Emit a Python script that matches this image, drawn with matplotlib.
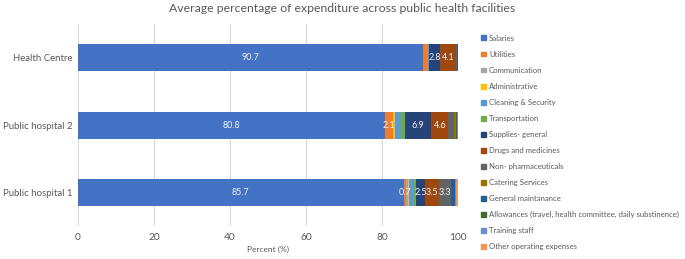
import matplotlib

matplotlib.use("Agg")
import matplotlib.pyplot as plt
import numpy as np
from matplotlib.patches import Patch

plt.rcParams["font.family"] = ["Lato", "DejaVu Sans"]

# bottom to top, as drawn
facilities = ["Public hospital 1", "Public hospital 2", "Health Centre"]

categories = [
    "Salaries", "Utilities", "Communication", "Administrative",
    "Cleaning & Security", "Transportation", "Supplies- general",
    "Drugs and medicines", "Non- pharmaceuticals", "Catering Services",
    "General maintanance",
    "Allowances (travel, health committee, daily substinence)",
    "Training staff", "Other operating expenses",
]

# percent per category, one list per facility (same order as facilities)
ph1 = [85.7, 0.7, 0.5, 0.2, 1.3, 0.5, 2.5, 3.5, 3.3, 0.0, 0.9, 0.2, 0.2, 0.5]
ph2 = [80.8, 2.1, 0.1, 0.5, 1.6, 0.9, 6.9, 4.6, 1.5, 0.4, 0.2, 0.2, 0.1, 0.1]
hc = [90.7, 1.3, 0.1, 0.1, 0.2, 0.1, 2.8, 4.1, 0.4, 0.0, 0.1, 0.1, 0.0, 0.0]

# which segments carry a value label in the original
labelled = [
    ["Salaries", "Utilities", "Supplies- general", "Drugs and medicines",
     "Non- pharmaceuticals"],
    ["Salaries", "Utilities", "Supplies- general", "Drugs and medicines"],
    ["Salaries", "Supplies- general", "Drugs and medicines"],
]

colors = ["#4472C4", "#ED7D31", "#A5A5A5", "#FFC000", "#5B9BD5", "#70AD47",
          "#264478", "#9E480E", "#636363", "#997300", "#255E91", "#43682B",
          "#698ED0", "#F1975A"]

TXT = "#595959"

data = np.array([ph1, ph2, hc])
y = np.arange(len(facilities))

fig = plt.figure(figsize=(6.85, 2.59), dpi=100)
ax = fig.add_axes([0.1139, 0.127, 0.5547, 0.780])

left = np.zeros(len(facilities))
for j, cat in enumerate(categories):
    vals = data[:, j]
    ax.barh(y, vals, left=left, height=0.4, color=colors[j], label=cat,
            zorder=3)
    for i in range(len(facilities)):
        if cat in labelled[i]:
            ax.text(left[i] + vals[i] / 2, y[i], f"{vals[i]:g}",
                    ha="center", va="center", color="#F2F2F2", fontsize=6.5,
                    zorder=4)
    left += vals

ax.set_xlim(0, 100)
ax.set_ylim(-0.5, len(facilities) - 0.5)
ax.set_xticks(np.arange(0, 101, 20))
ax.set_yticks(y)
ax.set_yticklabels(facilities)
ax.tick_params(axis="both", length=0, colors=TXT, labelsize=7.3)
ax.tick_params(axis="x", pad=5)
ax.tick_params(axis="y", pad=4, labelsize=6.9)
ax.grid(axis="x", color="#D9D9D9", linewidth=0.8, zorder=0)
for s in ax.spines.values():
    s.set_visible(False)
ax.set_xlabel("Percent (%)", fontsize=6, color=TXT, labelpad=3)

fig.suptitle("Average percentage of expenditure across public health facilities",
             fontsize=8.8, color=TXT, y=0.99)

handles = [Patch(color=c) for c in colors]
fig.legend(handles, categories, loc="upper left",
           bbox_to_anchor=(0.698, 0.878), frameon=False, fontsize=5.6,
           handlelength=0.6, handleheight=0.6, handletextpad=0.4,
           labelspacing=1.16, labelcolor=TXT, borderaxespad=0)

fig.savefig("out.png", dpi=100)
